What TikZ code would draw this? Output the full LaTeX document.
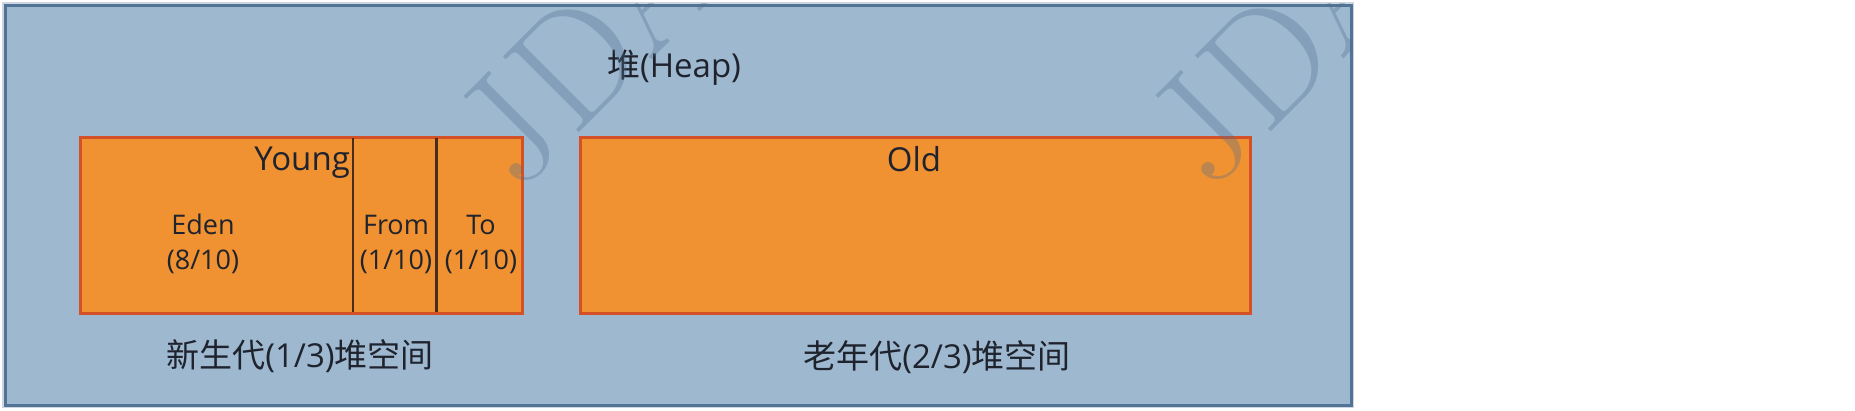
\documentclass[tikz,border=0pt]{standalone}
\usepackage{fontspec}
\setmainfont{Open Sans}
\newfontfamily\cjk{Noto Sans CJK SC}
\newfontfamily\wmfont{Latin Modern Roman}
\definecolor{heapbg}{RGB}{158,184,208}
\definecolor{heapline}{RGB}{80,115,150}
\definecolor{halo}{RGB}{205,214,224}
\definecolor{orangefill}{RGB}{240,145,50}
\definecolor{orangeline}{RGB}{212,80,38}
\definecolor{divline}{RGB}{70,45,30}
\definecolor{txt}{RGB}{30,35,45}
\definecolor{wmcol}{RGB}{80,110,140}
\tikzset{
  heapbox/.style={draw=heapline, line width=3pt, fill=heapbg, inner sep=0pt},
  genbox/.style={draw=orangeline, line width=3pt, fill=orangefill, inner sep=0pt},
  cell/.style={fill=orangefill, inner sep=0pt},
  divider/.style={draw=divline, line width=2.5pt},
  bigtext/.style={text=txt, inner sep=0pt, font=\fontsize{33}{40}\selectfont},
  smalltext/.style={text=txt, inner sep=0pt, font=\fontsize{27}{33}\selectfont},
  watermark/.style={text=wmcol, opacity=0.33, inner sep=0pt, rotate=45, anchor=base west,
    font=\wmfont\fontsize{157}{157}\selectfont}
}
\begin{document}
\begin{tikzpicture}[x=1pt,y=-1pt]
\useasboundingbox (0,0) rectangle (1855,410);
% heap outer box
\draw[halo, line width=6pt] (5,5) rectangle (1351,405);
\node[heapbox, minimum width=1346pt, minimum height=400pt] (heap) at (678,205) {};
% young generation
\node[genbox, minimum width=442pt, minimum height=176pt] (young) at (301,225) {};
\node[cell, minimum width=271pt, minimum height=173pt] (eden) at (217.5,225) {};
\node[cell, minimum width=81pt, minimum height=173pt] (from) at (396,225) {};
\node[cell, minimum width=81pt, minimum height=173pt] (to) at (480,225) {};
\draw[divider] (eden.north east) -- (eden.south east);
\draw[divider] (from.north east) -- (from.south east);
% old generation
\node[genbox, minimum width=670pt, minimum height=176pt] (old) at (915,225) {};
% texts
\node[bigtext, anchor=base] (heaplbl) at (674,77) {{\cjk 堆}(Heap)};
\node[bigtext, anchor=base east] (younglbl) at (350,170) {Young};
\node[smalltext, anchor=base] (edenname) at (203,234) {Eden};
\node[smalltext, anchor=base] (edenfrac) at (203,269) {(8/10)};
\node[smalltext, anchor=base] (fromname) at (396,234) {From};
\node[smalltext, anchor=base] (fromfrac) at (396,269) {(1/10)};
\node[smalltext, anchor=base] (toname) at (481,234) {To};
\node[smalltext, anchor=base] (tofrac) at (481,269) {(1/10)};
\node[bigtext, anchor=base] (oldlbl) at (914,171) {Old};
\node[bigtext, anchor=base] (younglab) at (300,367) {{\cjk 新生代}(1/3){\cjk 堆空间}};
\node[bigtext, anchor=base] (oldlab) at (937,368) {{\cjk 老年代}(2/3){\cjk 堆空间}};
% watermark
\begin{scope}
\clip (heap.north west) rectangle (heap.south east);
\node[watermark] (wm1) at (518,194) {J\kern5pt DA};
\node[watermark] (wm2) at (1210,193) {J\kern5pt DA};
\end{scope}
\end{tikzpicture}
\end{document}
